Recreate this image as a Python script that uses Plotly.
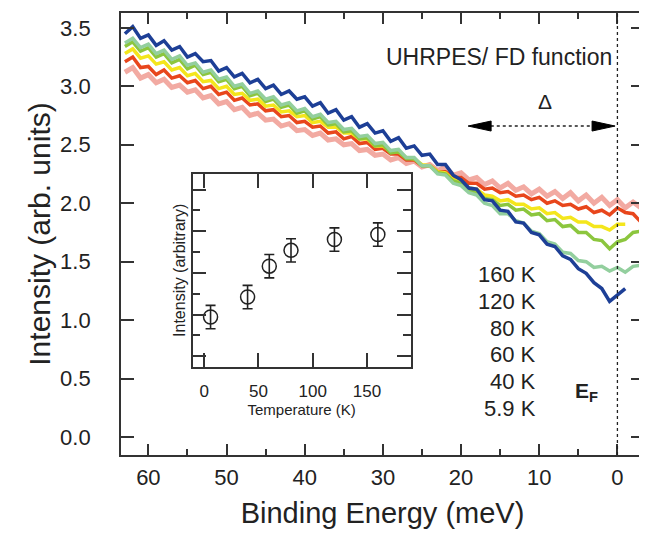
import plotly.graph_objects as go

# ---------------- data ----------------
energy = list(range(63, -4, -1))  # binding energy (meV), 63 ... -3

i_5p9K = [3.45, 3.51, 3.41, 3.44, 3.35, 3.39, 3.31, 3.34, 3.25, 3.28, 3.21, 3.22, 3.13, 3.16,
          3.08, 3.11, 3.03, 3.06, 2.98, 3.01, 2.93, 2.96, 2.89, 2.91, 2.83, 2.86, 2.77, 2.80,
          2.71, 2.74, 2.65, 2.68, 2.60, 2.62, 2.53, 2.56, 2.47, 2.49, 2.41, 2.42, 2.33, 2.33,
          2.24, 2.20, 2.13, 2.12, 2.03, 2.02, 1.94, 1.93, 1.84, 1.83, 1.75, 1.73, 1.65, 1.63,
          1.55, 1.52, 1.44, 1.40, 1.32, 1.27, 1.16, 1.22, 1.27, None, None]
i_40K = [3.37, 3.41, 3.33, 3.36, 3.28, 3.31, 3.23, 3.26, 3.18, 3.20, 3.12, 3.14, 3.06, 3.08,
         3.00, 3.02, 2.94, 2.96, 2.89, 2.91, 2.84, 2.86, 2.79, 2.81, 2.74, 2.76, 2.69, 2.70,
         2.63, 2.64, 2.57, 2.58, 2.51, 2.52, 2.45, 2.46, 2.39, 2.39, 2.32, 2.32, 2.25, 2.24,
         2.17, 2.15, 2.09, 2.07, 2.00, 1.98, 1.91, 1.91, 1.85, 1.83, 1.76, 1.74, 1.67, 1.65,
         1.58, 1.57, 1.51, 1.50, 1.45, 1.46, 1.42, 1.45, 1.41, 1.46, 1.47]
i_60K = [3.34, 3.38, 3.30, 3.33, 3.25, 3.28, 3.20, 3.23, 3.15, 3.18, 3.10, 3.12, 3.04, 3.06,
         2.98, 3.00, 2.92, 2.94, 2.87, 2.89, 2.82, 2.84, 2.77, 2.79, 2.72, 2.74, 2.67, 2.68,
         2.61, 2.62, 2.55, 2.56, 2.49, 2.50, 2.43, 2.44, 2.38, 2.38, 2.32, 2.32, 2.26, 2.25,
         2.19, 2.17, 2.11, 2.09, 2.04, 2.03, 1.98, 1.99, 1.94, 1.95, 1.90, 1.91, 1.85, 1.86,
         1.80, 1.81, 1.75, 1.75, 1.69, 1.68, 1.61, 1.67, 1.69, 1.75, 1.76]
i_80K = [3.28, 3.32, 3.24, 3.26, 3.19, 3.21, 3.14, 3.16, 3.09, 3.11, 3.04, 3.05, 2.98, 3.00,
         2.93, 2.94, 2.88, 2.89, 2.83, 2.84, 2.78, 2.79, 2.74, 2.75, 2.69, 2.70, 2.65, 2.65,
         2.60, 2.60, 2.55, 2.55, 2.49, 2.49, 2.44, 2.44, 2.39, 2.38, 2.33, 2.32, 2.27, 2.26,
         2.20, 2.19, 2.13, 2.12, 2.07, 2.06, 2.02, 2.03, 1.99, 1.99, 1.95, 1.96, 1.91, 1.92,
         1.87, 1.88, 1.84, 1.84, 1.80, 1.80, 1.77, 1.82, 1.82, None, None]
i_120K = [3.21, 3.25, 3.16, 3.17, 3.10, 3.14, 3.07, 3.09, 3.03, 3.05, 2.98, 3.00, 2.93, 2.95,
          2.88, 2.90, 2.84, 2.85, 2.79, 2.80, 2.74, 2.75, 2.69, 2.70, 2.65, 2.66, 2.60, 2.61,
          2.55, 2.57, 2.51, 2.52, 2.46, 2.47, 2.42, 2.42, 2.37, 2.37, 2.32, 2.32, 2.27, 2.27,
          2.22, 2.22, 2.17, 2.17, 2.12, 2.13, 2.09, 2.10, 2.06, 2.07, 2.03, 2.05, 2.00, 2.02,
          1.98, 1.99, 1.95, 1.97, 1.92, 1.94, 1.90, 1.96, 1.92, 1.91, 1.84]
i_160K = [3.12, 3.16, 3.07, 3.10, 3.03, 3.06, 2.99, 3.01, 2.95, 2.97, 2.90, 2.92, 2.85, 2.87,
          2.80, 2.82, 2.75, 2.77, 2.71, 2.72, 2.66, 2.68, 2.62, 2.63, 2.58, 2.60, 2.54, 2.55,
          2.50, 2.51, 2.45, 2.46, 2.41, 2.42, 2.37, 2.39, 2.34, 2.36, 2.31, 2.33, 2.28, 2.31,
          2.24, 2.26, 2.20, 2.22, 2.16, 2.19, 2.13, 2.17, 2.11, 2.14, 2.08, 2.12, 2.06, 2.10,
          2.04, 2.09, 2.02, 2.07, 2.00, 2.05, 1.98, 2.03, 1.96, 2.01, 1.96]

temp_labels = ["160 K", "120 K", "80 K", "60 K", "40 K", "5.9 K"]

inset_temp = [5.9, 40, 60, 80, 120, 160]
inset_intensity = [0.97, 1.21, 1.58, 1.77, 1.90, 1.96]
inset_err = [0.14, 0.14, 0.14, 0.14, 0.14, 0.14]

# ---------------- styling ----------------
FONT = "Liberation Sans, Arial, Helvetica, sans-serif"
AXC = "#333333"
X_RANGE = [63.5, -3.4]
Y_RANGE = [-0.154, 3.627]
X2_RANGE = [-10.6, 190.3]
Y2_RANGE = [0.375, 2.6875]
X2_DOM = [0.137, 0.554]
Y2_DOM = [0.200, 0.636]

series = [
    (i_160K, "#f2aaa2", 5.0),
    (i_120K, "#e8461c", 3.5),
    (i_80K, "#f4e61c", 3.5),
    (i_60K, "#8cc63e", 3.5),
    (i_40K, "#93cf9e", 3.5),
    (i_5p9K, "#1d3f96", 3.5),
]

fig = go.Figure()
for vals, col, w in series:
    fig.add_trace(go.Scatter(x=energy, y=vals, mode="lines",
                             line=dict(color=col, width=w), showlegend=False,
                             connectgaps=False, xaxis="x", yaxis="y"))

fig.add_trace(go.Scatter(
    x=inset_temp, y=inset_intensity, mode="markers",
    marker=dict(symbol="circle-open", size=14, color="#222222", line=dict(width=1.5)),
    error_y=dict(type="data", array=inset_err, color="#222222", thickness=1.6, width=5),
    showlegend=False, xaxis="x2", yaxis="y2"))

tickstyle = dict(ticks="inside", tickwidth=1.5, tickcolor=AXC, showgrid=False,
                 zeroline=False, automargin=False)

fig.update_layout(
    template="none",
    width=647, height=536,
    margin=dict(l=113, r=11, t=5, b=89),
    paper_bgcolor="white", plot_bgcolor="white",
    font=dict(family=FONT, color="#222222", size=21),
    xaxis=dict(range=X_RANGE, domain=[0, 1], tickmode="linear", tick0=0, dtick=10,
               ticklen=11,
               minor=dict(tickmode="linear", tick0=5, dtick=10, ticks="inside", ticklen=6,
                          tickwidth=1.5, tickcolor=AXC, showgrid=False),
               showline=True, linecolor=AXC, linewidth=1.8, mirror="allticks",
               tickfont=dict(size=22), ticklabelstandoff=2,
               title=dict(text="Binding Energy (meV)", font=dict(size=29), standoff=13),
               **tickstyle),
    yaxis=dict(range=Y_RANGE, domain=[0, 1], tickmode="linear", tick0=0, dtick=0.5,
               tickformat=".1f", ticklen=13,
               showline=True, linecolor=AXC, linewidth=1.8, mirror="allticks",
               tickfont=dict(size=22), ticklabelstandoff=24,
               title=dict(text="Intensity (arb. units)", font=dict(size=30), standoff=1),
               **tickstyle),
    # top / right tick rows of the main frame
    xaxis3=dict(range=X_RANGE, overlaying="x", anchor="y", side="top",
                tickmode="linear", tick0=0, dtick=10, ticklen=11, showticklabels=False,
                minor=dict(tickmode="linear", tick0=5, dtick=10, ticks="inside", ticklen=6,
                           tickwidth=1.5, tickcolor=AXC, showgrid=False),
                showline=False, **tickstyle),
    yaxis3=dict(range=Y_RANGE, overlaying="y", anchor="x", side="right",
                tickmode="linear", tick0=0, dtick=0.5, ticklen=13, showticklabels=False,
                showline=False, **tickstyle),
    # inset
    xaxis2=dict(range=X2_RANGE, domain=X2_DOM, anchor="y2",
                tickmode="linear", tick0=0, dtick=50, ticklen=14,
                showline=True, linecolor=AXC, linewidth=1.5, mirror="allticks",
                tickfont=dict(size=17), ticklabelstandoff=8,
                title=dict(text="Temperature (K)", font=dict(size=15), standoff=5),
                **tickstyle),
    yaxis2=dict(range=Y2_RANGE, domain=Y2_DOM, anchor="x2",
                tickmode="linear", tick0=0.5, dtick=0.5, showticklabels=False, ticklen=14,
                minor=dict(tickmode="linear", tick0=0.25, dtick=0.5, ticks="inside", ticklen=8,
                           tickwidth=1.5, tickcolor=AXC, showgrid=False),
                showline=True, linecolor=AXC, linewidth=1.5, mirror="allticks",
                title=dict(text="Intensity (arbitrary)", font=dict(size=16), standoff=1),
                **tickstyle),
    xaxis4=dict(range=X2_RANGE, overlaying="x2", anchor="y2", side="top",
                tickmode="linear", tick0=0, dtick=50, ticklen=14, showticklabels=False,
                showline=False, **tickstyle),
    yaxis4=dict(range=Y2_RANGE, overlaying="y2", anchor="x2", side="right",
                tickmode="linear", tick0=0.5, dtick=0.5, ticklen=14, showticklabels=False,
                minor=dict(tickmode="linear", tick0=0.25, dtick=0.5, ticks="inside", ticklen=8,
                           tickwidth=1.5, tickcolor=AXC, showgrid=False),
                showline=False, **tickstyle),
)

# --- E_F dotted line
fig.add_shape(type="line", xref="x", yref="paper", x0=0, x1=0, y0=0, y1=1,
              line=dict(color="#222222", width=1.3, dash="dot"))

# --- Delta arrow
arrow_y = 2.66
fig.add_shape(type="line", xref="x", yref="y", x0=16.2, x1=2.9, y0=arrow_y, y1=arrow_y,
              line=dict(color="#222222", width=1.5, dash="dot"))
fig.add_shape(type="path", xref="x", yref="y", xsizemode="pixel", ysizemode="pixel",
              xanchor=19.1, yanchor=arrow_y, path="M 0 0 L 23 5 L 23 -5 Z",
              fillcolor="black", line=dict(color="black", width=1))
fig.add_shape(type="path", xref="x", yref="y", xsizemode="pixel", ysizemode="pixel",
              xanchor=0.3, yanchor=arrow_y, path="M 0 0 L -23 5 L -23 -5 Z",
              fillcolor="black", line=dict(color="black", width=1))

annots = [
    dict(x=0.5, y=3.25, text="UHRPES/ FD function", xanchor="right", font=dict(size=23)),
    dict(x=9.3, y=2.87, text="Δ", xanchor="center", font=dict(size=21)),
    dict(x=4.0, y=0.385, text="<b>E<sub>F</sub></b>", xanchor="center", font=dict(size=21)),
]
label_y = [1.394, 1.163, 0.932, 0.710, 0.479, 0.248]
for t, yy in zip(temp_labels, label_y):
    annots.append(dict(x=10.1, y=yy, text=t, xanchor="right", font=dict(size=22)))
for a in annots:
    a.update(xref="x", yref="y", showarrow=False, yanchor="middle")
    fig.add_annotation(**a)

fig.write_html("out.html")
